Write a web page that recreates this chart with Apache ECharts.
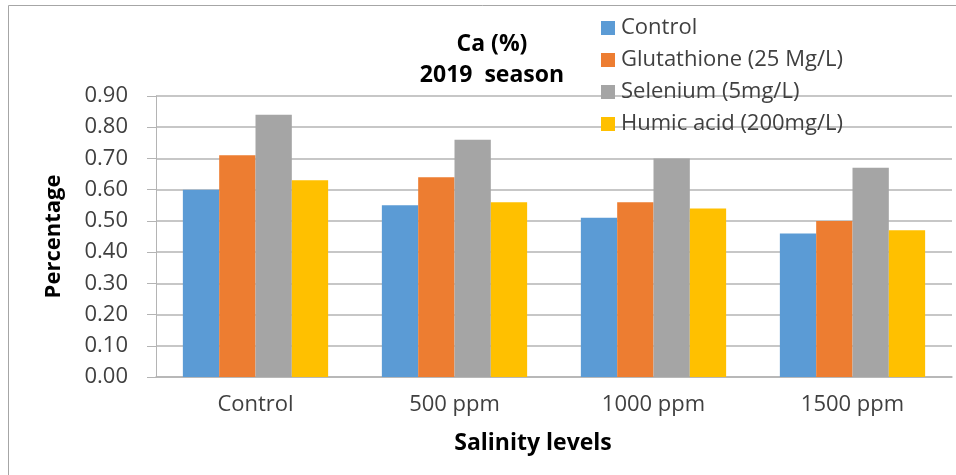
<!DOCTYPE html>
<html>
<head>
<meta charset="utf-8">
<script src="https://cdn.jsdelivr.net/npm/echarts@6/dist/echarts.min.js"></script>
<style>html,body{margin:0;padding:0;background:#fff;}#chart{width:956px;height:475px;}</style>
</head>
<body>
<div id="chart"></div>
<script>
var categories = ['Control', '500 ppm', '1000 ppm', '1500 ppm'];
var seriesNames = ['Control', 'Glutathione (25 Mg/L)', 'Selenium (5mg/L)', 'Humic acid (200mg/L)'];
var controlValues = [0.60, 0.55, 0.51, 0.46];
var glutathioneValues = [0.71, 0.64, 0.56, 0.50];
var seleniumValues = [0.84, 0.76, 0.70, 0.67];
var humicValues = [0.63, 0.56, 0.54, 0.47];
var colors = ['#5b9bd5', '#ed7d31', '#a5a5a5', '#ffc000'];
var FONT = 'Open Sans';

var chart = echarts.init(document.getElementById('chart'));
var data = [controlValues, glutathioneValues, seleniumValues, humicValues];
chart.setOption({
  animation: false,
  textStyle: { fontFamily: FONT },
  title: {
    text: 'Ca (%)\n2019  season',
    left: 487, top: 24, textAlign: 'center',
    textStyle: { fontFamily: FONT, fontWeight: 'bold', fontSize: 23, color: '#000', lineHeight: 31 }
  },
  legend: {
    orient: 'vertical', left: 596, top: 12,
    itemWidth: 14, itemHeight: 14, itemGap: 10,
    icon: 'rect',
    textStyle: { fontFamily: FONT, fontSize: 22, color: '#404040', padding: [0, 0, 0, 1] },
    data: seriesNames
  },
  graphic: [{
    type: 'rect', z: -10, silent: true,
    shape: { x: 8.5, y: 5.5, width: 1200, height: 1200 },
    style: { fill: 'none', stroke: '#a6a6a6', lineWidth: 1 }
  }],
  grid: { left: 156, right: 4, top: 96, bottom: 98 },
  xAxis: {
    type: 'category', data: categories,
    axisLine: { lineStyle: { color: '#b4b4b4', width: 1.5 } },
    axisTick: { show: false },
    axisLabel: { fontFamily: FONT, fontSize: 22, color: '#404040', margin: 17 },
    name: 'Salinity levels', nameLocation: 'middle', nameGap: 55,
    nameTextStyle: { fontFamily: FONT, fontWeight: 'bold', fontSize: 23, color: '#000', padding: [0, 42, 0, 0] }
  },
  yAxis: {
    type: 'value', min: 0, max: 0.9, interval: 0.1,
    axisLine: { show: true, lineStyle: { color: '#b4b4b4' } },
    axisTick: { show: true, length: 9, lineStyle: { color: '#b4b4b4' } },
    axisLabel: { fontFamily: FONT, fontSize: 22, color: '#404040', margin: 28,
      formatter: function (v) { return v.toFixed(2); } },
    splitLine: { lineStyle: { color: '#b4b4b4', width: 1.5 } },
    name: 'Percentage', nameLocation: 'middle', nameGap: 91, nameRotate: 90,
    nameTextStyle: { fontFamily: FONT, fontWeight: 'bold', fontSize: 22, color: '#000' }
  },
  series: seriesNames.map(function (n, i) {
    return {
      name: n, type: 'bar', data: data[i],
      barGap: '0%', barCategoryGap: '27%',
      itemStyle: { color: colors[i] }
    };
  })
});
</script>
</body>
</html>
